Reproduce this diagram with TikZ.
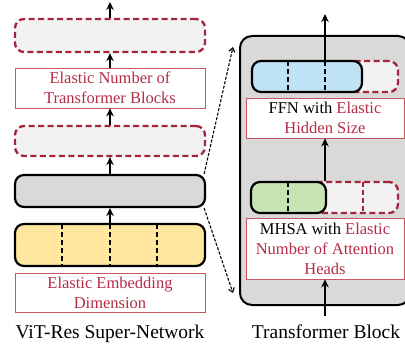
\documentclass[tikz,border=0pt]{standalone}
\usepackage{fontspec}
\setmainfont{Liberation Serif}
\usetikzlibrary{arrows.meta}
\definecolor{elasticred}{RGB}{165,35,60}
\definecolor{lbltext}{RGB}{180,45,70}
\definecolor{lblred}{RGB}{200,85,100}
\definecolor{normgray}{RGB}{217,217,217}
\definecolor{emptygray}{RGB}{242,242,242}
\definecolor{embyellow}{RGB}{255,231,160}
\definecolor{ffnblue}{RGB}{192,226,245}
\definecolor{attngreen}{RGB}{200,228,180}
\begin{document}
\begin{tikzpicture}[x=1pt,y=-1pt,
   every node/.style={font=\fontsize{16.5}{20}\selectfont,inner sep=0pt},
   blk/.style={draw,line width=2.2pt,rounded corners=9pt,minimum height=31pt},
   elastic/.style={draw=elasticred,fill=emptygray,line width=2.3pt,dash pattern=on 6pt off 3.5pt,rounded corners=9pt,minimum height=31pt},
   lbl/.style={draw=lblred,fill=white,line width=0.8pt,text=lbltext,align=center},
   captext/.style={font=\fontsize{19.5}{23}\selectfont},
   flow/.style={-{Stealth[length=8pt,width=7.5pt]},line width=2.2pt},
   zoomline/.style={-{Straight Barb[length=4pt,width=6pt]},line width=1.1pt,dash pattern=on 3pt off 1.6pt},
   split/.style={line width=2pt,dash pattern=on 5pt off 3pt}]
   \clip (0,0) rectangle (405,345);
   % super-network column
   \node [elastic,minimum width=190pt,minimum height=33pt] (topblk) at (110,35.5) {};
   \node [lbl,minimum width=190pt,minimum height=40pt] (nblbl) at (110,88) {Elastic Number of\\Transformer Blocks};
   \node [elastic,minimum width=190pt,minimum height=30pt] (midblk) at (110,141) {};
   \node [blk,fill=normgray,minimum width=190pt,minimum height=32pt] (normblk) at (110,191) {};
   \node [blk,fill=embyellow,minimum width=190pt,minimum height=42pt] (embblk) at (110,245) {};
   \foreach \x in {62,110,157}
     \draw [split] (\x,224) -- (\x,266);
   \node [lbl,minimum width=190pt,minimum height=39pt] (emblbl) at (110,292.5) {Elastic Embedding\\Dimension};
   \node [captext] (netcap) at (110,334) {ViT-Res Super-Network};
   \coordinate (netout) at (110,2);
   \draw [flow] (embblk.north) -- (normblk.south);
   \draw [flow] (normblk.north) -- (midblk.south);
   \draw [flow] (midblk.north) -- (nblbl.south);
   \draw [flow] (nblbl.north) -- (topblk.south);
   \draw [flow] (topblk.north) -- (netout);
   % transformer block
   \node [draw,fill=normgray,line width=2pt,rounded corners=12pt,minimum width=170pt,minimum height=269pt] (tfpanel) at (325,170.5) {};
   \node [elastic,minimum width=58pt] (ffnext) at (369,76.5) {};
   \node [blk,fill=ffnblue,minimum width=110pt] (ffnblk) at (307,76.5) {};
   \foreach \x in {288,325}
     \draw [split] (\x,61) -- (\x,92);
   \node [lbl,minimum width=158pt,minimum height=40pt] (ffnlbl) at (325,118) {{\color{black}FFN with} Elastic\\Hidden Size};
   \node [elastic,minimum width=88pt] (attnext) at (354,197.5) {};
   \draw [split,draw=elasticred,line width=2.3pt] (363,182) -- (363,213);
   \node [blk,fill=attngreen,minimum width=75pt] (attnblk) at (288.5,197.5) {};
   \draw [split] (288,182) -- (288,213);
   \node [lbl,minimum width=158pt,minimum height=61pt] (attnlbl) at (325,248.5) {{\color{black}MHSA with} Elastic\\Number of Attention\\Heads};
   \node [captext] (tfcap) at (326,332) {Transformer Block};
   \coordinate (tfin) at (325,316);
   \coordinate (tfout) at (325,14);
   \draw [flow] (tfin) -- (attnlbl.south);
   \draw [flow] (ffnlbl.south |- attnblk.north) -- (ffnlbl.south);
   \draw [flow] (ffnlbl.south |- ffnblk.north) -- (tfout);
   % zoom lines
   \coordinate (zoomtop) at (233,47);
   \coordinate (zoombot) at (233,293);
   \draw [zoomline] (normblk.north east) ++(-2,0) -- (zoomtop);
   \draw [zoomline] (normblk.south east) ++(-2,0) -- (zoombot);
\end{tikzpicture}
\end{document}
